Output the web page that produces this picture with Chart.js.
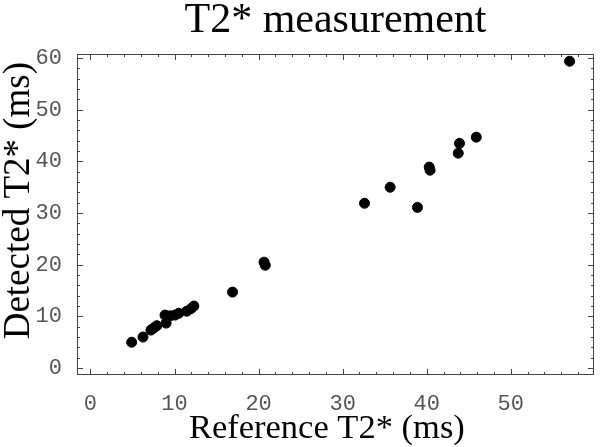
<!DOCTYPE html>
<html>
<head>
<meta charset="utf-8">
<script src="https://cdn.jsdelivr.net/npm/chart.js@4/dist/chart.umd.min.js"></script>
<style>
  html, body { margin: 0; padding: 0; background: #fff; }
  #wrap { width: 600px; height: 447px; }
</style>
</head>
<body>
<div id="wrap"><canvas id="c" width="600" height="447"></canvas></div>
<script>
// values
const refT2 = [4.9, 6.25, 7.2, 7.56, 7.9, 8.87, 9.0, 9.46, 10.06, 10.5, 11.45, 11.96, 12.3,
               16.9, 20.65, 20.8, 32.6, 35.65, 38.9, 40.3, 40.4, 43.75, 43.9, 45.9, 57.0];
const detT2 = [5.0, 6.0, 7.35, 7.8, 8.2, 10.25, 8.7, 10.1, 10.25, 10.6, 11.0, 11.5, 12.0,
               14.7, 20.5, 19.9, 31.9, 35.0, 31.1, 38.9, 38.3, 41.6, 43.5, 44.7, 59.4];
const xTicks = [0, 10, 20, 30, 40, 50];
const yTicks = [0, 10, 20, 30, 40, 50, 60];

const points = refT2.map((x, i) => ({ x: x, y: detT2[i] }));

// Mathematica-style frame: box round the plot with inward ticks on all four sides
const framePlugin = {
  id: 'frame',
  afterDraw(chart) {
    const { ctx, chartArea: a, scales } = chart;
    ctx.save();
    ctx.strokeStyle = '#444';
    ctx.lineWidth = 1;
    ctx.strokeRect(a.left + 0.5, a.top + 0.5, a.right - a.left - 1, a.bottom - a.top - 1);
    ctx.beginPath();
    for (let v = 0; v <= 60; v += 2) {
      const len = v % 10 === 0 ? 6 : 3;
      const px = Math.round(scales.x.getPixelForValue(v)) + 0.5;
      if (px > a.left && px < a.right) {
        ctx.moveTo(px, a.bottom); ctx.lineTo(px, a.bottom - len);
        ctx.moveTo(px, a.top); ctx.lineTo(px, a.top + len);
      }
      const py = Math.round(scales.y.getPixelForValue(v)) + 0.5;
      if (py > a.top && py < a.bottom) {
        ctx.moveTo(a.left, py); ctx.lineTo(a.left + len, py);
        ctx.moveTo(a.right, py); ctx.lineTo(a.right - len, py);
      }
    }
    ctx.stroke();
    ctx.restore();
  }
};

new Chart(document.getElementById('c'), {
  type: 'scatter',
  data: {
    datasets: [{
      data: points,
      backgroundColor: '#000',
      borderColor: '#000',
      pointRadius: 5,
      pointHoverRadius: 5
    }]
  },
  options: {
    responsive: false,
    animation: false,
    layout: { padding: 0 },
    plugins: {
      legend: { display: false },
      tooltip: { enabled: false },
      title: {
        display: true,
        fullSize: false,
        text: 'T2* measurement',
        color: '#000',
        font: { family: 'Liberation Serif', size: 42, weight: 'normal', lineHeight: 1 },
        padding: { top: 0, bottom: 12 }
      }
    },
    scales: {
      x: {
        type: 'linear',
        min: -1.6,
        max: 59.9,
        grid: { display: false },
        border: { display: false },
        afterBuildTicks: s => { s.ticks = xTicks.map(v => ({ value: v })); },
        afterFit: s => { s.height = 72; },
        ticks: {
          color: '#555',
          padding: 8,
          font: { family: 'Liberation Mono', size: 22 }
        },
        title: {
          display: true,
          // trailing spaces nudge the centred title a little left, as in the original
          text: 'Reference T2* (ms)  ',
          color: '#000',
          padding: { top: 0, bottom: 1 },
          font: { family: 'Liberation Serif', size: 34.5, lineHeight: 1 }
        }
      },
      y: {
        type: 'linear',
        min: -1.35,
        max: 60.8,
        grid: { display: false },
        border: { display: false },
        afterBuildTicks: s => { s.ticks = yTicks.map(v => ({ value: v })); },
        afterFit: s => { s.width = 77; },
        ticks: {
          color: '#555',
          padding: 7,
          font: { family: 'Liberation Mono', size: 22 }
        },
        title: {
          display: true,
          // leading spaces push the rotated title up a bit
          text: '   Detected T2* (ms)',
          color: '#000',
          padding: { top: 1, bottom: 0 },
          font: { family: 'Liberation Serif', size: 37, lineHeight: 1 }
        }
      }
    }
  },
  plugins: [framePlugin]
});
</script>
</body>
</html>
